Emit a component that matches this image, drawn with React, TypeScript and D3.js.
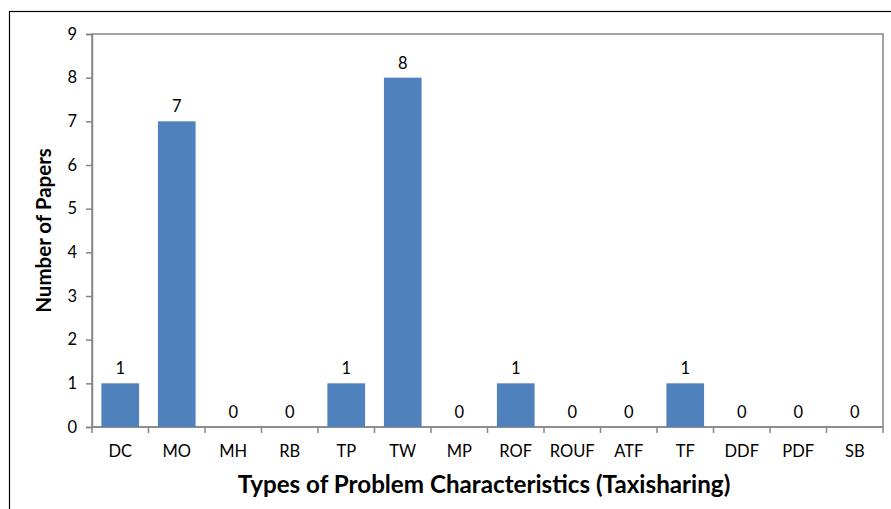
import React, { useEffect, useRef } from 'react';
import * as d3 from 'd3';

const categories = ['DC', 'MO', 'MH', 'RB', 'TP', 'TW', 'MP', 'ROF', 'ROUF', 'ATF', 'TF', 'DDF', 'PDF', 'SB'];
const paperCounts = [1, 7, 0, 0, 1, 8, 0, 1, 0, 0, 1, 0, 0, 0];
const yTicks = [0, 1, 2, 3, 4, 5, 6, 7, 8, 9];

const App: React.FC = () => {
  const ref = useRef<SVGSVGElement | null>(null);

  useEffect(() => {
    if (!ref.current) return;
    const svg = d3.select(ref.current);
    svg.selectAll('*').remove();

    const width = 891;
    const height = 509;
    const margin = { top: 34, right: 8, bottom: 82, left: 92 };
    const innerWidth = width - margin.left - margin.right;
    const innerHeight = height - margin.top - margin.bottom;
    const font = 'Lato, "Open Sans", sans-serif';
    const axisColor = '#868686';

    svg.append('rect').attr('width', width).attr('height', height).attr('fill', 'white');
    // outer frame
    svg.append('rect')
      .attr('x', 9.5).attr('y', 11.5)
      .attr('width', width + 20).attr('height', height + 20)
      .attr('fill', 'none').attr('stroke', '#000').attr('stroke-width', 1.2);

    const g = svg.append('g').attr('transform', `translate(${margin.left},${margin.top})`);

    const x = d3.scaleBand().domain(categories).range([0, innerWidth]).paddingInner(1 / 3).paddingOuter(1 / 6);
    const xEdges = d3.scaleBand().domain(categories).range([0, innerWidth]);
    const y = d3.scaleLinear().domain([0, 9]).range([innerHeight, 0]);

    // plot frame
    g.append('rect')
      .attr('x', 0).attr('y', 0).attr('width', innerWidth).attr('height', innerHeight)
      .attr('fill', 'none').attr('stroke', axisColor).attr('stroke-width', 1.5);

    // y axis
    const yAxis = g.append('g').call(d3.axisLeft(y).tickValues(yTicks).tickSize(6).tickPadding(9).tickFormat(d3.format('d')));
    yAxis.select('.domain').attr('stroke', axisColor).attr('stroke-width', 1.5);
    yAxis.selectAll('line').attr('stroke', axisColor).attr('stroke-width', 1.5);
    yAxis.selectAll('text').attr('font-family', font).attr('font-size', 16.5).attr('fill', '#000');

    // x axis with ticks on category boundaries
    const xAxisG = g.append('g').attr('transform', `translate(0,${innerHeight})`);
    xAxisG.append('line').attr('x1', 0).attr('x2', innerWidth).attr('stroke', axisColor).attr('stroke-width', 1.5);
    const edges = categories.map(c => xEdges(c) || 0).concat([innerWidth]);
    xAxisG.selectAll('line.tick')
      .data(edges)
      .enter()
      .append('line')
      .attr('class', 'tick')
      .attr('x1', d => d).attr('x2', d => d)
      .attr('y1', 0).attr('y2', 6)
      .attr('stroke', axisColor).attr('stroke-width', 1.5);
    xAxisG.selectAll('text')
      .data(categories)
      .enter()
      .append('text')
      .attr('x', d => (xEdges(d) || 0) + xEdges.bandwidth() / 2)
      .attr('y', 30)
      .attr('text-anchor', 'middle')
      .attr('font-family', font).attr('font-size', 16.5).attr('fill', '#000')
      .text(d => d);

    const rows = categories.map((c, i) => ({ c, v: paperCounts[i] }));

    g.selectAll('.bar')
      .data(rows.filter(d => d.v > 0))
      .enter()
      .append('rect')
      .attr('class', 'bar')
      .attr('x', d => x(d.c) || 0)
      .attr('y', d => y(d.v))
      .attr('width', x.bandwidth())
      .attr('height', d => innerHeight - y(d.v))
      .attr('fill', '#4F81BD');

    g.selectAll('.val')
      .data(rows)
      .enter()
      .append('text')
      .attr('class', 'val')
      .attr('x', d => (x(d.c) || 0) + x.bandwidth() / 2)
      .attr('y', d => y(d.v) - 9)
      .attr('text-anchor', 'middle')
      .attr('font-family', font).attr('font-size', 16.5).attr('fill', '#000')
      .text(d => d.v);

    // axis titles
    svg.append('text')
      .attr('x', 484)
      .attr('y', 493)
      .attr('text-anchor', 'middle')
      .attr('font-family', font).attr('font-size', 24.2).attr('font-weight', 'bold').attr('fill', '#000')
      .text('Types of Problem Characteristics (Taxisharing)');

    svg.append('text')
      .attr('transform', `translate(51,${margin.top + innerHeight / 2}) rotate(-90)`)
      .attr('text-anchor', 'middle')
      .attr('font-family', font).attr('font-size', 20.5).attr('font-weight', 'bold').attr('fill', '#000')
      .text('Number of Papers');
  }, []);

  return (
    <svg ref={ref} width={891} height={509} style={{ position: 'absolute', left: 0, top: 0, display: 'block' }} />
  );
};

export default App;
